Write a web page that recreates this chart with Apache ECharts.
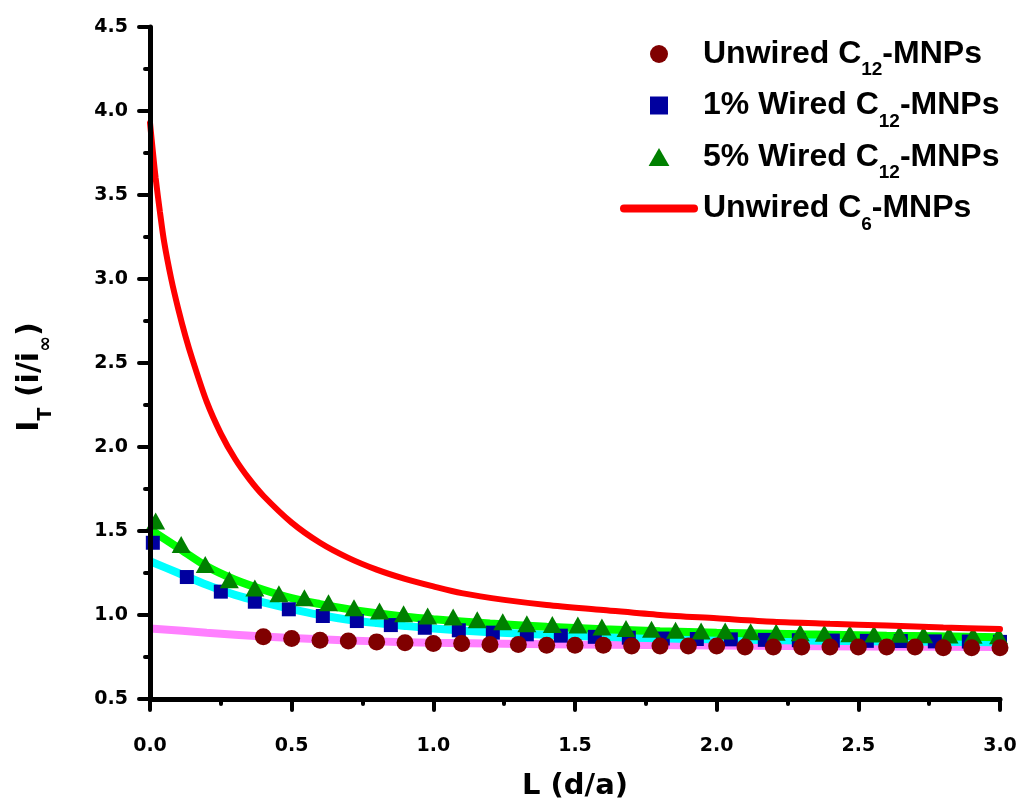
<!DOCTYPE html>
<html><head><meta charset="utf-8">
<script src="https://cdn.jsdelivr.net/npm/echarts@6/dist/echarts.min.js"></script>
<style>html,body{margin:0;padding:0;background:#fff}#c{width:1020px;height:803px}</style>
</head><body><div id="c"></div>
<script>
// ---- data ----
const redL = [0, 0.01, 0.02, 0.035, 0.05, 0.075, 0.1, 0.125, 0.15, 0.2, 0.25, 0.3, 0.35, 0.4, 0.5, 0.6, 0.7, 0.8, 0.9, 1.0, 1.1, 1.25, 1.4, 1.6, 1.8, 2.0, 2.2, 2.4, 2.6, 2.8, 3.0];
const redY = [3.93, 3.76, 3.60, 3.40, 3.22, 3.00, 2.82, 2.66, 2.52, 2.27, 2.08, 1.93, 1.81, 1.71, 1.55, 1.43, 1.34, 1.27, 1.215, 1.17, 1.13, 1.09, 1.06, 1.03, 1.00, 0.98, 0.96, 0.948, 0.937, 0.926, 0.916];

const pinkL = [0, 0.2, 0.4, 0.6, 0.8, 1.0, 1.5, 2.0, 2.5, 3.0];
const pinkY = [0.92, 0.895, 0.872, 0.855, 0.843, 0.835, 0.825, 0.818, 0.813, 0.81];

const cyanL = [0, 0.1, 0.2, 0.3, 0.4, 0.5, 0.6, 0.7, 0.8, 0.9, 1.0, 1.2, 1.4, 1.6, 1.8, 2.0, 2.3, 2.6, 3.0];
const cyanY = [1.32, 1.25, 1.18, 1.12, 1.075, 1.035, 1.0, 0.972, 0.952, 0.935, 0.92, 0.898, 0.882, 0.87, 0.861, 0.855, 0.848, 0.843, 0.838];

const greenL = [0, 0.1, 0.2, 0.3, 0.4, 0.5, 0.6, 0.7, 0.8, 0.9, 1.0, 1.2, 1.4, 1.6, 1.8, 2.0, 2.3, 2.6, 3.0];
const greenY = [1.51, 1.40, 1.29, 1.21, 1.15, 1.10, 1.065, 1.035, 1.01, 0.99, 0.975, 0.95, 0.93, 0.915, 0.903, 0.895, 0.885, 0.877, 0.868];

const unwiredL = [0.4, 0.5, 0.6, 0.7, 0.8, 0.9, 1.0, 1.1, 1.2, 1.3, 1.4, 1.5, 1.6, 1.7, 1.8, 1.9, 2.0, 2.1, 2.2, 2.3, 2.4, 2.5, 2.6, 2.7, 2.8, 2.9, 3.0];
const unwiredY = [0.87, 0.86, 0.85, 0.845, 0.84, 0.835, 0.83, 0.83, 0.825, 0.825, 0.82, 0.82, 0.82, 0.815, 0.815, 0.815, 0.815, 0.81, 0.81, 0.81, 0.81, 0.81, 0.81, 0.81, 0.805, 0.805, 0.805];

const wired1L = [0.01, 0.13, 0.25, 0.37, 0.49, 0.61, 0.73, 0.85, 0.97, 1.09, 1.21, 1.33, 1.45, 1.57, 1.69, 1.81, 1.93, 2.05, 2.17, 2.29, 2.41, 2.53, 2.65, 2.77, 2.89, 3.0];
const wired1Y = [1.43, 1.226, 1.139, 1.079, 1.034, 0.994, 0.964, 0.94, 0.924, 0.909, 0.895, 0.885, 0.877, 0.87, 0.865, 0.86, 0.857, 0.855, 0.852, 0.85, 0.848, 0.846, 0.845, 0.843, 0.842, 0.84];

const wired5L = [0.02, 0.11, 0.195, 0.28, 0.37, 0.455, 0.545, 0.63, 0.72, 0.81, 0.895, 0.98, 1.07, 1.155, 1.245, 1.33, 1.42, 1.51, 1.595, 1.68, 1.77, 1.855, 1.945, 2.03, 2.12, 2.21, 2.295, 2.38, 2.47, 2.555, 2.645, 2.73, 2.82, 2.905, 2.995];
const wired5Y = [1.56, 1.42, 1.30, 1.21, 1.16, 1.127, 1.103, 1.073, 1.043, 1.024, 1.008, 0.994, 0.988, 0.972, 0.96, 0.948, 0.944, 0.94, 0.929, 0.92, 0.915, 0.909, 0.905, 0.905, 0.90, 0.897, 0.894, 0.891, 0.889, 0.887, 0.885, 0.883, 0.881, 0.879, 0.877];

const seriesNames = ['Unwired C12-MNPs', '1% Wired C12-MNPs', '5% Wired C12-MNPs', 'Unwired C6-MNPs'];
const legendParts = [['Unwired C', '12', '-MNPs'], ['1% Wired C', '12', '-MNPs'], ['5% Wired C', '12', '-MNPs'], ['Unwired C', '6', '-MNPs']];
const xTickLabels = ['0.0', '0.5', '1.0', '1.5', '2.0', '2.5', '3.0'];

const zip = (a, b) => a.map((v, i) => [v, b[i]]);
const FONT = 'Liberation Sans, Arial, sans-serif';
const WIDE = 'DejaVu Sans, Verdana, sans-serif';

const chart = echarts.init(document.getElementById('c'), null, {renderer: 'canvas'});
const axisCommon = {
  type: 'value',
  z: 10,
  splitLine: {show: false},
  axisLine: {show: true, lineStyle: {color: '#000', width: 5, cap: 'round'}},
  axisTick: {show: true, inside: false, length: 11, lineStyle: {color: '#000', width: 4, cap: 'round'}},
  minorTick: {show: true, splitNumber: 2, length: 5, lineStyle: {color: '#000', width: 4, cap: 'round'}},
};
chart.setOption({
  animation: false,
  backgroundColor: '#fff',
  grid: {left: 150, right: 20, top: 27, bottom: 104, containLabel: false, outerBoundsMode: 'none'},
  xAxis: Object.assign({}, axisCommon, {
    min: 0, max: 3, interval: 0.5,
    axisLabel: {margin: 38, color: '#000', fontFamily: WIDE, fontWeight: 'bold', fontSize: 19,
      formatter: (v) => xTickLabels[Math.round(v / 0.5)]},
    name: 'L (d/a)', nameLocation: 'middle', nameGap: 73,
    nameTextStyle: {color: '#000', fontFamily: WIDE, fontWeight: 'bold', fontSize: 29}
  }),
  yAxis: Object.assign({}, axisCommon, {
    min: 0.5, max: 4.5, interval: 0.5,
    axisLabel: {margin: 22, color: '#000', fontFamily: WIDE, fontWeight: 'bold', fontSize: 19,
      formatter: (v) => v.toFixed(1)},
    name: '{b|I}{s|T}{b| (i/i}{s|∞}{b|)}', nameLocation: 'middle', nameGap: 94, nameRotate: 90,
    nameTextStyle: {color: '#000', padding: [0, 28, 0, 0], rich: {
      b: {fontFamily: WIDE, fontWeight: 'bold', fontSize: 30, color: '#000'},
      s: {fontFamily: WIDE, fontWeight: 'bold', fontSize: 19, color: '#000', padding: [32, 0, 0, 0]}
    }}
  }),
  legend: {
    orient: 'vertical', left: 620, top: 38, padding: 0,
    itemWidth: 78, itemHeight: 18, itemGap: 10,
    data: [
      {name: seriesNames[0], icon: 'circle'},
      {name: seriesNames[1], icon: 'path://M0,0h10v10h-10z'},
      {name: seriesNames[2], icon: 'path://M6,0L12,10.4L0,10.4z'},
      {name: seriesNames[3], icon: 'path://M4,0H74A4,4,0,0,1,74,8H4A4,4,0,0,1,4,0z'}
    ],
    formatter: (name) => {
      const p = legendParts[seriesNames.indexOf(name)];
      return '{b|' + p[0] + '}{s|' + p[1] + '}{b|' + p[2] + '}';
    },
    textStyle: {rich: {
      b: {fontFamily: FONT, fontWeight: 'bold', fontSize: 32, color: '#000'},
      s: {fontFamily: FONT, fontWeight: 'bold', fontSize: 19, color: '#000', padding: [32, 0, 0, 0]}
    }}
  },
  series: [
    {type: 'line', name: 'fitUnwired', z: 1, data: zip(pinkL, pinkY), smooth: 0.3, symbol: 'none',
      lineStyle: {color: '#FF80FF', width: 8}, silent: true},
    {type: 'line', name: 'fit1', z: 1, data: zip(cyanL, cyanY), smooth: 0.3, symbol: 'none',
      lineStyle: {color: '#00FFFF', width: 8}, silent: true},
    {type: 'line', name: 'fit5', z: 1, data: zip(greenL, greenY), smooth: 0.3, symbol: 'none',
      lineStyle: {color: '#00FF00', width: 8}, silent: true},
    {type: 'scatter', name: seriesNames[1], z: 3, data: zip(wired1L, wired1Y), symbol: 'rect', symbolSize: 14,
      itemStyle: {color: '#00009F', opacity: 1}},
    {type: 'scatter', name: seriesNames[2], z: 4, data: zip(wired5L, wired5Y), symbol: 'triangle', symbolSize: [19, 17],
      itemStyle: {color: '#008000', opacity: 1}},
    {type: 'scatter', name: seriesNames[0], z: 5, data: zip(unwiredL, unwiredY), symbol: 'circle', symbolSize: 17,
      itemStyle: {color: '#800000', opacity: 1}},
    {type: 'line', name: seriesNames[3], z: 6, data: zip(redL, redY), smooth: 0.3, symbol: 'none',
      lineStyle: {color: '#FF0000', width: 6, cap: 'round'}, itemStyle: {color: '#FF0000'}}
  ]
});
</script></body></html>
